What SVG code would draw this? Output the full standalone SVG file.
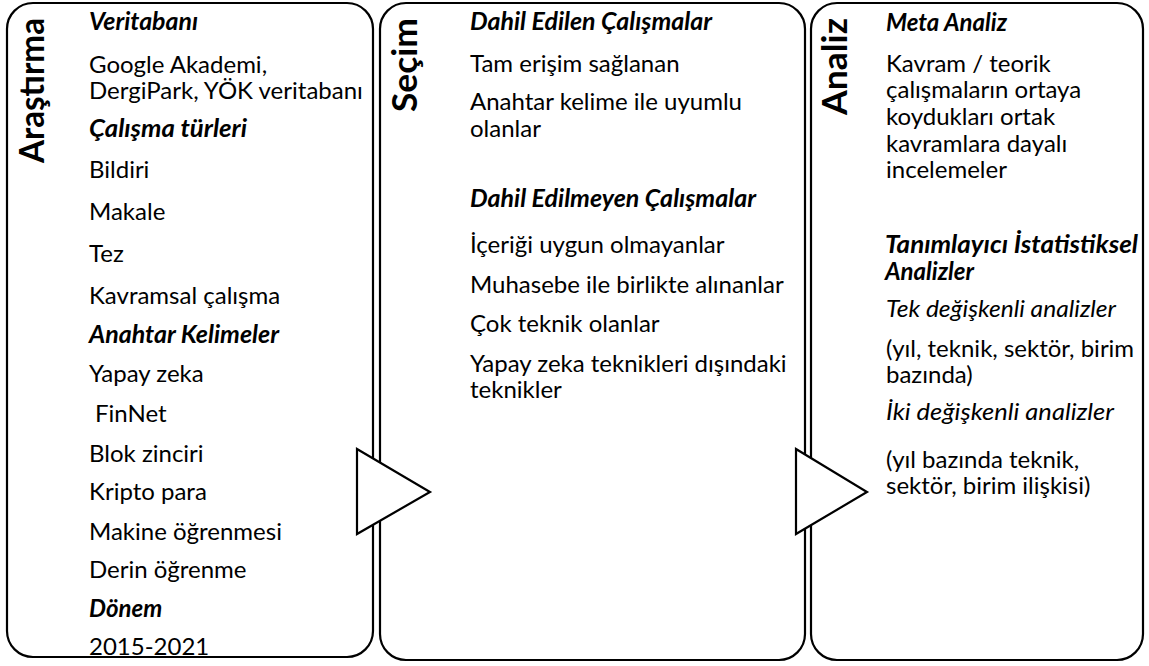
<svg xmlns="http://www.w3.org/2000/svg" width="1149" height="666" viewBox="0 0 1149 666">
<style>
.box{fill:#ffffff;stroke:#000000;stroke-width:2.2}
.arrow{fill:#ffffff;stroke:#000000;stroke-width:2.2;stroke-linejoin:miter}
text{font-family:Lato,"Open Sans","Liberation Sans",sans-serif;fill:#000000;font-size:24px}
.h{font-weight:bold;font-style:italic}
.i{font-style:italic}
.t{font-weight:bold;font-size:34px}
</style>
<rect width="1149" height="666" fill="#ffffff"/>
<g id="arastirma">
<rect class="box" x="7" y="3" width="366" height="654" rx="26" ry="26"/>
<text class="t" transform="translate(44,163) rotate(-90)" textLength="145" lengthAdjust="spacingAndGlyphs">Araştırma</text>
<text class="h" x="89" y="30" textLength="109" lengthAdjust="spacingAndGlyphs">Veritabanı</text>
<text x="89" y="73">Google Akademi,</text>
<text x="89" y="99">DergiPark, YÖK veritabanı</text>
<text class="h" x="89" y="137" textLength="158" lengthAdjust="spacingAndGlyphs">Çalışma türleri</text>
<text x="89" y="178">Bildiri</text>
<text x="89" y="220">Makale</text>
<text x="89" y="262">Tez</text>
<text x="89" y="304">Kavramsal çalışma</text>
<text class="h" x="89" y="343" textLength="190" lengthAdjust="spacingAndGlyphs">Anahtar Kelimeler</text>
<text x="89" y="382">Yapay zeka</text>
<text x="95" y="422">FinNet</text>
<text x="89" y="462">Blok zinciri</text>
<text x="89" y="500">Kripto para</text>
<text x="89" y="540">Makine öğrenmesi</text>
<text x="89" y="578">Derin öğrenme</text>
<text class="h" x="89" y="617">Dönem</text>
<text x="89" y="655">2015-2021</text>
</g>
<g id="secim">
<rect class="box" x="380" y="3" width="425" height="657" rx="26" ry="26"/>
<text class="t" transform="translate(417,112) rotate(-90)" textLength="94" lengthAdjust="spacingAndGlyphs">Seçim</text>
<text class="h" x="470" y="30" textLength="242" lengthAdjust="spacingAndGlyphs">Dahil Edilen Çalışmalar</text>
<text x="470" y="72">Tam erişim sağlanan</text>
<text x="470" y="110">Anahtar kelime ile uyumlu</text>
<text x="470" y="137">olanlar</text>
<text class="h" x="470" y="207" textLength="286" lengthAdjust="spacingAndGlyphs">Dahil Edilmeyen Çalışmalar</text>
<text x="470" y="253">İçeriği uygun olmayanlar</text>
<text x="470" y="293">Muhasebe ile birlikte alınanlar</text>
<text x="470" y="332">Çok teknik olanlar</text>
<text x="470" y="372">Yapay zeka teknikleri dışındaki</text>
<text x="470" y="398">teknikler</text>
</g>
<g id="analiz">
<rect class="box" x="811" y="3" width="332" height="657" rx="26" ry="26"/>
<text class="t" transform="translate(847,115) rotate(-90)" textLength="97" lengthAdjust="spacingAndGlyphs">Analiz</text>
<text class="h" x="886" y="31">Meta Analiz</text>
<text x="886" y="72">Kavram / teorik</text>
<text x="886" y="98">çalışmaların ortaya</text>
<text x="886" y="125">koydukları ortak</text>
<text x="886" y="152">kavramlara dayalı</text>
<text x="886" y="178">incelemeler</text>
<text class="h" x="885" y="253" textLength="253" lengthAdjust="spacingAndGlyphs">Tanımlayıcı İstatistiksel</text>
<text class="h" x="885" y="280">Analizler</text>
<text class="i" x="886" y="317" textLength="230" lengthAdjust="spacingAndGlyphs">Tek değişkenli analizler</text>
<text x="886" y="357">(yıl, teknik, sektör, birim</text>
<text x="886" y="383">bazında)</text>
<text class="i" x="886" y="420" textLength="228" lengthAdjust="spacingAndGlyphs">İki değişkenli analizler</text>
<text x="886" y="468">(yıl bazında teknik,</text>
<text x="886" y="494">sektör, birim ilişkisi)</text>
</g>
<g id="connectors">
<polygon class="arrow" points="357,449 430,492 357,534"/>
<polygon class="arrow" points="796,449 867,492 796,534"/>
</g>
</svg>
